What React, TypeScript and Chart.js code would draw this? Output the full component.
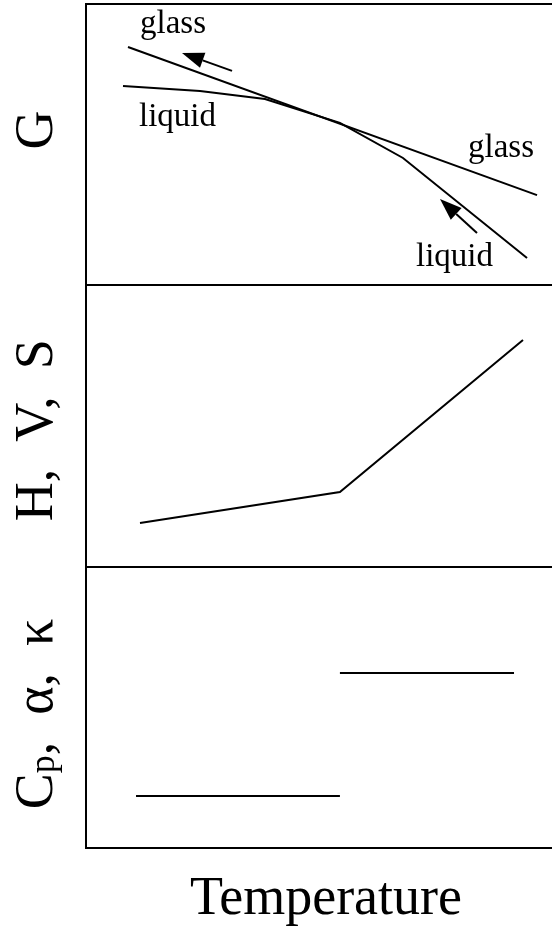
import React, { useEffect, useRef } from 'react';
import { Chart, registerables } from 'chart.js';

Chart.register(...registerables);

const SERIF = '"Liberation Serif", "Times New Roman", Times, serif';

// Temperature runs 0..100 (arbitrary units); the glass transition is at TG
const TG = 52.9;

// Free energy G(T)
const gGlassT = [8.75, 93.96];
const gGlassV = [84.7, 32.0];
const gLiquidT = [7.71, 23.75, 37.29, TG, 66.04, 91.88];
const gLiquidV = [70.8, 69.0, 66.2, 57.7, 45.2, 9.6];

// Direction arrows on the G panel (tail -> tip)
const arrowTailT = [30.42, 81.46];
const arrowTailV = [76.2, 18.5];
const arrowTipT = [20.0, 73.75];
const arrowTipV = [82.6, 30.6];

// Branch names on the G panel
const gLabelText = ['glass', 'liquid', 'glass', 'liquid'];
const gLabelT = [18.13, 19.06, 86.46, 76.77];
const gLabelV = [89.7, 56.6, 45.6, 6.8];

// H, V, S: kink at TG
const hvsT = [11.25, TG, 91.04];
const hvsV = [15.6, 26.6, 80.5];

// Cp, alpha, kappa: step at TG
const stepLowT = [10.42, TG];
const stepLowV = [18.6, 18.6];
const stepHighT = [TG, 89.17];
const stepHighV = [62.3, 62.3];

// The frame is open on the right: the plot area runs past the visible edge
const CANVAS_W = 566;
const VISIBLE_W = 552;

type Part = { text: string; size: number; shift?: number };

const zip = (xs: number[], ys: number[]) => xs.map((x, i) => ({ x, y: ys[i] }));

const lineSet = (xs: number[], ys: number[]) => ({
  data: zip(xs, ys),
  borderColor: '#000',
  borderWidth: 2,
  pointRadius: 0,
  tension: 0,
  fill: false,
});

const axisBorder = { display: true, color: '#000', width: 2 };
const noGrid = { display: false, drawTicks: false, tickLength: 0 };

function frameScales(withTop: boolean, xTitle?: string) {
  const scales: any = {
    x: {
      type: 'linear',
      position: 'bottom',
      min: 0,
      max: 100,
      grid: noGrid,
      ticks: { display: false },
      border: axisBorder,
      title: xTitle
        ? {
            display: true,
            text: xTitle,
            color: '#000',
            font: { family: SERIF, size: 54 },
            padding: { top: 19, bottom: 0 },
          }
        : { display: false },
    },
    y: {
      type: 'linear',
      position: 'left',
      min: 0,
      max: 100,
      grid: noGrid,
      ticks: { display: false },
      border: axisBorder,
    },
  };
  if (withTop) {
    scales.xTop = {
      type: 'linear',
      axis: 'x',
      position: 'top',
      min: 0,
      max: 100,
      grid: noGrid,
      ticks: { display: false },
      border: axisBorder,
    };
  }
  return scales;
}

// Rotated quantity name to the left of a panel
function sideLabelPlugin(parts: Part[], centerV: number) {
  return {
    id: 'sideLabel',
    afterDraw(chart: any) {
      const { ctx, chartArea, scales } = chart;
      const cy = scales.y.getPixelForValue(centerV);
      ctx.save();
      ctx.fillStyle = '#000';
      ctx.textBaseline = 'alphabetic';
      ctx.textAlign = 'left';
      let total = 0;
      const widths = parts.map((p) => {
        ctx.font = `${p.size}px ${SERIF}`;
        const w = ctx.measureText(p.text).width;
        total += w;
        return w;
      });
      ctx.translate(chartArea.left - 34, cy);
      ctx.rotate(-Math.PI / 2);
      let cx = -total / 2;
      parts.forEach((p, i) => {
        ctx.font = `${p.size}px ${SERIF}`;
        ctx.fillText(p.text, cx, p.shift || 0);
        cx += widths[i];
      });
      ctx.restore();
    },
  };
}

// Branch names and arrows on the free-energy panel
const annotationPlugin = {
  id: 'gAnnotations',
  afterDatasetsDraw(chart: any) {
    const { ctx, scales } = chart;
    const px = (t: number) => scales.x.getPixelForValue(t);
    const py = (v: number) => scales.y.getPixelForValue(v);
    ctx.save();
    ctx.fillStyle = '#000';
    ctx.strokeStyle = '#000';
    ctx.lineWidth = 2;
    ctx.font = `33px ${SERIF}`;
    ctx.textAlign = 'center';
    ctx.textBaseline = 'alphabetic';
    gLabelText.forEach((t, i) => ctx.fillText(t, px(gLabelT[i]), py(gLabelV[i])));

    arrowTailT.forEach((_, i) => {
      const x1 = px(arrowTailT[i]);
      const y1 = py(arrowTailV[i]);
      const x2 = px(arrowTipT[i]);
      const y2 = py(arrowTipV[i]);
      const ang = Math.atan2(y2 - y1, x2 - x1);
      const headLen = 22;
      const half = 8;
      const bx = x2 - headLen * Math.cos(ang);
      const by = y2 - headLen * Math.sin(ang);
      ctx.beginPath();
      ctx.moveTo(x1, y1);
      ctx.lineTo(bx, by);
      ctx.stroke();
      ctx.beginPath();
      ctx.moveTo(x2, y2);
      ctx.lineTo(bx + half * Math.sin(ang), by - half * Math.cos(ang));
      ctx.lineTo(bx - half * Math.sin(ang), by + half * Math.cos(ang));
      ctx.closePath();
      ctx.fill();
    });
    ctx.restore();
  },
};

type PanelProps = {
  top: number;
  height: number;
  padTop: number;
  padBottom: number;
  datasets: any[];
  withTop?: boolean;
  xTitle?: string;
  label: Part[];
  labelV: number;
  extra?: any[];
};

function Panel(props: PanelProps) {
  const ref = useRef<HTMLCanvasElement | null>(null);
  useEffect(() => {
    if (!ref.current) return;
    const chart = new Chart(ref.current, {
      type: 'line',
      data: { datasets: props.datasets },
      options: {
        responsive: false,
        animation: false,
        devicePixelRatio: 1,
        layout: { padding: { left: 86, right: 0, top: props.padTop, bottom: props.padBottom } },
        plugins: { legend: { display: false }, tooltip: { enabled: false } },
        scales: frameScales(!!props.withTop, props.xTitle),
      } as any,
      plugins: [sideLabelPlugin(props.label, props.labelV), ...(props.extra || [])],
    });
    return () => chart.destroy();
  }, []);
  return (
    <canvas
      ref={ref}
      width={CANVAS_W}
      height={props.height}
      style={{ position: 'absolute', left: 0, top: props.top, width: CANVAS_W, height: props.height }}
    />
  );
}

export default function App() {
  return (
    <div
      style={{
        position: 'absolute',
        left: 0,
        top: 0,
        width: VISIBLE_W,
        height: 932,
        overflow: 'hidden',
        background: '#fff',
      }}
    >
      <Panel
        top={0}
        height={290}
        padTop={4}
        padBottom={5}
        withTop
        datasets={[lineSet(gGlassT, gGlassV), lineSet(gLiquidT, gLiquidV)]}
        label={[{ text: 'G', size: 54 }]}
        labelV={55.2}
        extra={[annotationPlugin]}
      />
      <Panel
        top={280}
        height={295}
        padTop={5}
        padBottom={8}
        datasets={[lineSet(hvsT, hvsV)]}
        label={[{ text: 'H,  V,  S', size: 54 }]}
        labelV={48.5}
      />
      <Panel
        top={560}
        height={372}
        padTop={7}
        padBottom={0}
        xTitle="Temperature"
        datasets={[lineSet(stepLowT, stepLowV), lineSet(stepHighT, stepHighV)]}
        label={[
          { text: 'C', size: 54 },
          { text: 'p', size: 36, shift: 2 },
          { text: ',  α,  κ', size: 54 },
        ]}
        labelV={47.7}
      />
    </div>
  );
}
